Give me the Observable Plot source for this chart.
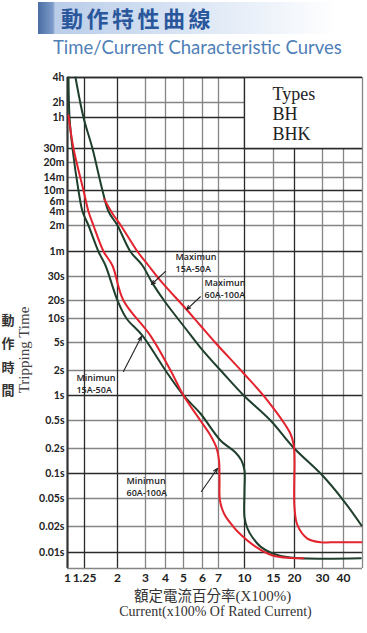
<!DOCTYPE html>
<html>
<head>
<meta charset="utf-8">
<script src="https://cdn.jsdelivr.net/npm/d3@7"></script>
<script src="https://cdn.jsdelivr.net/npm/@observablehq/plot@0.6"></script>
<style>
  html, body { margin: 0; padding: 0; background: #fff; }
  #hdr { position: relative; width: 367px; height: 70px; overflow: hidden; }
  #bar { position: absolute; left: 38px; top: 2px; width: 300px; height: 32px;
         background: linear-gradient(to right, #4a6da3 0px, #7e9ccb 15px, #b9cce8 17px, #d3e0f2 120px, #eef3fa 230px, #ffffff 300px); }
  #t1 { position: absolute; left: 61px; top: 1px; font: 700 22px "Noto Sans CJK TC", sans-serif; letter-spacing: 3.5px; color: #2a579c; }
  #t2 { position: absolute; left: 53px; top: 36px; font: 400 18.5px Lato, sans-serif; color: #4f80b8; white-space: nowrap; }
  #wrap { position: relative; width: 367px; }
  #ytitle { position: absolute; left: 24px; top: 280px; transform: translate(-50%, -50%) rotate(-90deg);
            font: 15px "Liberation Serif", serif; color: #444; white-space: nowrap; }
  #ycjk { position: absolute; left: 8px; top: 285px; transform: translate(-50%, -50%); width: 14px; text-align: center;
          font: 700 13px/23.4px "Noto Sans CJK TC", sans-serif; color: #333; }
  svg { display: block; }
</style>
</head>
<body>
<div id="hdr">
  <div id="bar"></div>
  <div id="t1">動作特性曲線</div>
  <div id="t2">Time/Current Characteristic Curves</div>
</div>
<div id="wrap">
  <div id="chart"></div>
  <div id="ytitle">Tripping Time</div>
  <div id="ycjk">動<br>作<br>時<br>間</div>
</div>
<script>
// ---- axis ticks ----
const xTicks = [1, 1.25, 2, 3, 4, 5, 6, 7, 10, 15, 20, 30, 40];
const xTickLabels = ["1", "1.25", "2", "3", "4", "5", "6", "7", "10", "15", "20", "30", "40"];
const yTicks = [14400, 7200, 3600, 1800, 1200, 840, 600, 360, 240, 120, 60, 30, 20, 10, 5, 2, 1, 0.5, 0.2, 0.1, 0.05, 0.02, 0.01];
const yTickLabels = ["4h", "2h", "1h", "30m", "20m", "14m", "10m", "6m", "4m", "2m", "1m", "30s", "20s", "10s", "5s", "2s", "1s", "0.5s", "0.2s", "0.1s", "0.05s", "0.02s", "0.01s"];
const majorX = [1.25, 2, 10, 20];
const majorY = [14400, 3600, 1800, 600, 60, 1, 0.1, 0.01];

// ---- curves: current (x rated) and tripping time (s) ----
const minSmallI = [1.013, 1.027, 1.068, 1.155, 1.218, 1.323, 1.525, 1.686, 2.0, 2.28, 2.87, 4.0, 5.0, 5.88, 7.2, 8.84, 9.6, 10.0, 10.0, 10.0, 10.43, 11.19, 12.5, 14.8, 18.9, 49];
const minSmallT = [14400, 3600, 1800, 600, 240, 120, 60, 40.7, 20, 10, 6.1, 2, 1, 0.607, 0.26, 0.179, 0.143, 0.109, 0.0624, 0.0269, 0.0189, 0.0149, 0.0117, 0.0097, 0.0085, 0.0083];

const minLargeI = [1.013, 1.082, 1.234, 1.323, 1.42, 1.64, 1.86, 2.18, 3.22, 4.26, 5.0, 5.88, 6.48, 6.87, 7.05, 7.1, 7.14, 7.6, 8.46, 9.09, 11.66, 14.8, 18.9, 22.8];
const minLargeT = [3950, 1800, 600, 240, 120, 60, 40.7, 20, 6.1, 2, 1, 0.5, 0.306, 0.204, 0.143, 0.0824, 0.0468, 0.0296, 0.0207, 0.0175, 0.0117, 0.0091, 0.0084, 0.0083];

const maxSmallI = [1.111, 1.234, 1.40, 1.615, 1.76, 2.0, 2.41, 2.87, 3.32, 4.0, 5.1, 5.88, 7.49, 9.9, 14.4, 19.7, 30, 40, 49.4];
const maxSmallT = [14400, 3600, 1800, 600, 240, 120, 60, 40.7, 26.7, 18.5, 7.49, 4.24, 1.84, 1.0, 0.5, 0.207, 0.0946, 0.0468, 0.0207];

const maxLargeI = [1.66, 1.86, 2.12, 2.67, 3.13, 3.72, 5.19, 5.88, 6.78, 9.9, 13.8, 18.9, 19.8, 20, 20, 20.9, 24.1, 29.6, 33.5, 49.4];
const maxLargeT = [395, 218, 117, 60, 40.7, 28.0, 13.6, 8.17, 5, 1.84, 0.87, 0.327, 0.221, 0.15, 0.0372, 0.0207, 0.0145, 0.0131, 0.0131, 0.0131];

// ---- annotations ----
const annoLine1 = ["Maximun", "Maximun", "Minimun", "Minimun"];
const annoLine2 = ["15A-50A", "60A-100A", "15A-50A", "60A-100A"];
const annoX = [4.53, 6.12, 1.125, 2.28];
const annoY1 = [50.9, 26.7, 1.60, 0.080];
const annoY2 = [36.4, 21.8, 1.149, 0.0574];
const arrowX1 = [4.0, 5.88, 2.18, 5.94];
const arrowY1 = [34.5, 21.3, 1.95, 0.0607];
const arrowX2 = [3.27, 5.15, 2.83, 6.93];
const arrowY2 = [26.2, 14.1, 5.95, 0.115];

const typesText = ["Types\nBH\nBHK"];
const typesX = [14.8];
const typesY = [11500];

// ---- build tables ----
const toRows = (I, T) => I.map((v, i) => ({i: v, t: T[i]}));
const curves = [
  {rows: toRows(minSmallI, minSmallT), color: "#1f3f2c"},
  {rows: toRows(maxSmallI, maxSmallT), color: "#1f3f2c"},
  {rows: toRows(minLargeI, minLargeT), color: "#e3232e"},
  {rows: toRows(maxLargeI, maxLargeT), color: "#e3232e"}
];
const annos = annoLine1.flatMap((s, k) => [{s, x: annoX[k], y: annoY1[k]}, {s: annoLine2[k], x: annoX[k], y: annoY2[k]}]);
const arrows = arrowX1.map((v, k) => ({x1: v, y1: arrowY1[k], x2: arrowX2[k], y2: arrowY2[k]}));
const xLab = new Map(xTicks.map((v, k) => [v, xTickLabels[k]]));
const yLab = new Map(yTicks.map((v, k) => [v, yTickLabels[k]]));
const xMax = 50, yMin = 0.006;

const chart = Plot.plot({
  width: 367,
  height: 563,
  marginLeft: 67,
  marginRight: 5,
  marginTop: 7,
  marginBottom: 65,
  style: {fontFamily: "Lato, sans-serif", background: "#fff", overflow: "visible"},
  x: {type: "log", axis: null, domain: [...xTicks, xMax],
      range: [67, 84, 117, 145, 165, 183, 202, 218, 244, 273, 294, 322, 343, 362]},
  y: {type: "log", axis: null, domain: [yMin, ...yTicks.slice().reverse()],
      range: [498, 482, 456, 428, 403, 378, 350, 325, 300, 272, 248, 230, 206, 181, 155, 141, 131, 120, 107, 92, 78, 47, 32, 7]},
  marks: [
    // grid
    Plot.ruleX(xTicks.slice(1).filter(d => !majorX.includes(d)), {stroke: "#858585", strokeWidth: 1.3}),
    Plot.ruleY(yTicks.filter(d => !majorY.includes(d)), {stroke: "#858585", strokeWidth: 1.3}),
    Plot.ruleX(majorX, {stroke: "#2a2a2a", strokeWidth: 1.3}),
    Plot.ruleY(majorY, {stroke: "#2a2a2a", strokeWidth: 1.3}),
    // types box
    Plot.rectY([0], {x1: 10, x2: xMax, y1: 1800, y2: 14400, fill: "#fff", inset: 0}),
    Plot.ruleX([10], {y1: 1800, y2: 14400, stroke: "#2a2a2a", strokeWidth: 1.3}),
    Plot.ruleY([1800], {x1: 10, x2: xMax, stroke: "#2a2a2a", strokeWidth: 1.3}),
    // frame
    Plot.ruleX([1], {stroke: "#333", strokeWidth: 2.2}),
    Plot.ruleX([xMax], {stroke: "#858585", strokeWidth: 1.3}),
    Plot.ruleY([yMin], {stroke: "#858585", strokeWidth: 1.5}),
    Plot.ruleY([14400], {stroke: "#2a2a2a", strokeWidth: 1.3}),
    // curves
    ...curves.map(c => Plot.line(c.rows, {x: "i", y: "t", stroke: c.color, strokeWidth: 2, curve: "catmull-rom"})),
    // annotations
    Plot.arrow(arrows, {x1: "x1", y1: "y1", x2: "x2", y2: "y2", stroke: "#222", strokeWidth: 1.1, headLength: 6, headAngle: 45}),
    Plot.text(annos, {x: "x", y: "y", text: "s", textAnchor: "start", lineAnchor: "middle", fontSize: 9, fontWeight: 600,
                      fill: "#222", fontFamily: "'Open Sans', sans-serif"}),
    Plot.text(typesText, {x: typesX, y: typesY, text: d => d, textAnchor: "start", lineAnchor: "top", fontSize: 18,
                          lineHeight: 1.11, fill: "#222", fontFamily: "'Liberation Serif', serif"}),
    // tick labels
    Plot.text(yTicks, {y: d => d, frameAnchor: "left", dx: -3, textAnchor: "end", text: d => yLab.get(d),
                       fontSize: 10.5, fontWeight: 700, fill: "#222"}),
    Plot.text(xTicks, {x: d => d, frameAnchor: "bottom", dy: 10, lineAnchor: "middle", text: d => xLab.get(d),
                       fontSize: 12, fontWeight: 700, fill: "#222"}),
    // x axis titles
    Plot.text(["額定電流百分率"], {frameAnchor: "bottom", dx: 20.5, dy: 32.5, text: d => d, textAnchor: "end", fontSize: 14.5,
                                  fontFamily: "'Noto Sans CJK TC', sans-serif", fill: "#333"}),
    Plot.text(["(X100%)"], {frameAnchor: "bottom", dx: 20.5, dy: 32.5, text: d => d, textAnchor: "start", fontSize: 15,
                            fontFamily: "'Liberation Serif', serif", fill: "#333"}),
    Plot.text(["Current(x100% Of Rated Current)"], {frameAnchor: "bottom", dx: 0.5, dy: 47.5, text: d => d, fontSize: 14,
                            fontFamily: "'Liberation Serif', serif", fill: "#333"})
  ]
});
document.getElementById("chart").appendChild(chart);
</script>
</body>
</html>
